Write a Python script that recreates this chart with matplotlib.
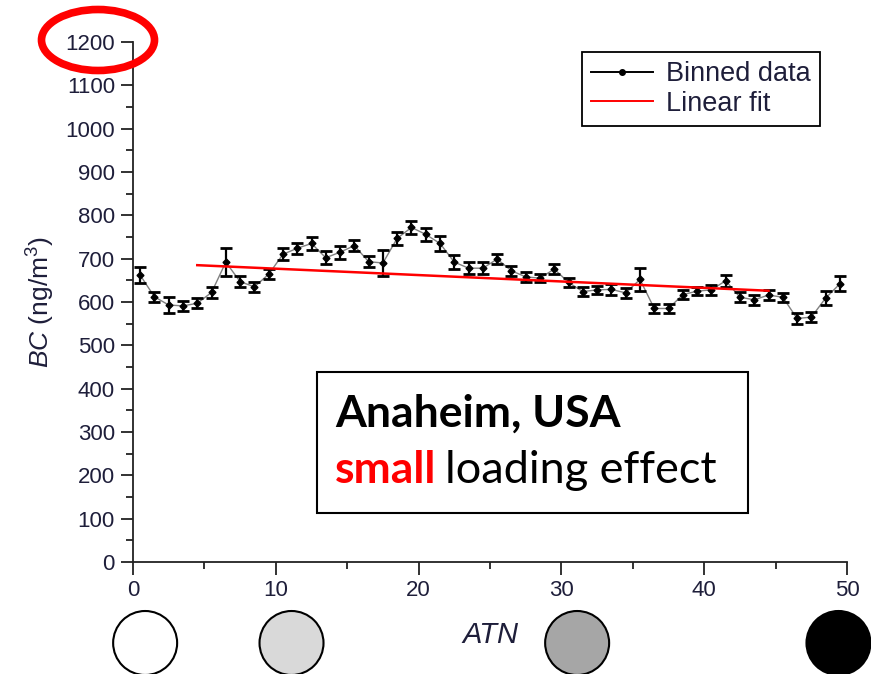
import numpy as np
import matplotlib
matplotlib.use("Agg")
import matplotlib.pyplot as plt
from matplotlib.lines import Line2D
from matplotlib.patches import Ellipse, Rectangle

plt.rcParams['font.family'] = ['Liberation Sans', 'DejaVu Sans']
plt.rcParams['mathtext.fontset'] = 'custom'
plt.rcParams['mathtext.rm'] = 'Liberation Sans'
plt.rcParams['mathtext.it'] = 'Liberation Sans:italic'

# binned BC vs ATN
atn = np.arange(0.5, 50, 1.0)
bc = [662, 612, 593, 591, 597, 622, 692, 647, 635, 664,
      710, 724, 735, 702, 715, 730, 693, 690, 747, 772,
      756, 735, 692, 678, 678, 699, 672, 658, 655, 676,
      645, 624, 628, 629, 621, 652, 585, 585, 617, 625,
      628, 649, 611, 605, 616, 611, 562, 565, 609, 642]
bc_err = [18, 11, 18, 11, 12, 13, 32, 12, 12, 12,
          14, 13, 15, 15, 15, 12, 12, 30, 15, 15,
          15, 18, 16, 14, 14, 12, 12, 12, 10, 12,
          10, 10, 10, 12, 12, 27, 11, 11, 10, 10,
          12, 14, 12, 12, 12, 10, 12, 11, 17, 17]

# linear fit over the middle range
fit_range = [4.5, 44.5]
fit_intercept = 691.6
fit_slope = -1.475

# filter spot shades at increasing attenuation
spot_colors = ['white', '#d9d9d9', '#a6a6a6', 'black']
spot_atn = [0.85, 11.1, 31.1, 49.4]

txt_col = '#1e1e3a'

fig = plt.figure(figsize=(8.71, 6.74), dpi=100)
ax = fig.add_axes([0.1527, 0.1662, 0.8198, 0.7715])

ax.plot(atn, bc, color='0.5', lw=1.0, zorder=2)
ax.errorbar(atn, bc, yerr=bc_err, fmt='D', color='black', ms=3.5,
            elinewidth=1.6, capsize=4.5, capthick=2.0, zorder=3)

fx = np.array(fit_range)
ax.plot(fx, fit_intercept + fit_slope * fx, color='red', lw=1.8, zorder=4)

ax.set_xlim(0, 50)
ax.set_ylim(0, 1200)
ax.set_xticks(np.arange(0, 51, 10))
ax.set_xticks(np.arange(5, 50, 10), minor=True)
ax.set_yticks(np.arange(0, 1201, 100))
ax.set_yticks(np.arange(50, 1200, 100), minor=True)
for side in ['top', 'right']:
    ax.spines[side].set_visible(False)
for side in ['left', 'bottom']:
    ax.spines[side].set_linewidth(1.3)
    ax.spines[side].set_color('#222222')
ax.tick_params(which='major', direction='out', length=9, width=1.3,
               color='#222222', labelsize=16, labelcolor=txt_col, pad=4)
ax.tick_params(which='minor', direction='out', length=5, width=1.3,
               color='#222222')

ax.set_ylabel(r'$BC$ (ng/m$^{3}$)', fontsize=19, color=txt_col, labelpad=6)
fig.text(490 / 871, 1 - 635 / 674, 'ATN', style='italic', fontsize=21,
         color=txt_col, ha='center', va='center')

handles = [Line2D([], [], color='black', lw=1.4, marker='o', ms=4),
           Line2D([], [], color='red', lw=1.4)]
leg = ax.legend(handles, ['Binned data', 'Linear fit'], loc='upper right',
                bbox_to_anchor=(0.962, 0.981), borderaxespad=0,
                fancybox=False, edgecolor='black', fontsize=19.5,
                handlelength=2.3, handletextpad=0.45, borderpad=0.35,
                labelspacing=0.12, framealpha=1)
leg.get_frame().set_linewidth(1.3)
for t in leg.get_texts():
    t.set_color(txt_col)

# site annotation box
fig.add_artist(Rectangle((317 / 871, 1 - 513 / 674), 431 / 871, 141 / 674,
                         transform=fig.transFigure, fill=True, facecolor='white',
                         edgecolor='black', lw=1.5, zorder=5))
fig.text(335 / 871, 1 - 427 / 674, 'Anaheim, USA', family='Lato',
         weight='bold', fontsize=32, va='baseline', zorder=6)
t_small = fig.text(335 / 871, 1 - 483 / 674, 'small', family='Lato',
                   weight='bold', color='red', fontsize=32, va='baseline', zorder=6)
fig.canvas.draw()
bb = t_small.get_window_extent()
fig.text((bb.x1 + 9) / 871, 1 - 483 / 674, 'loading effect', family='Lato',
         fontsize=32.5, va='baseline', zorder=6)

# highlight around the top tick label
fig.add_artist(Ellipse((98 / 871, 1 - 40 / 674), 113 / 871, 61 / 674,
                       transform=fig.transFigure, fill=False,
                       edgecolor='red', lw=5.5))

# filter spots along the ATN axis
for a, c in zip(spot_atn, spot_colors):
    px = ax.transData.transform((a, 0))[0] / 871
    fig.add_artist(Ellipse((px, 1 - 643 / 674), 64 / 871, 64 / 674,
                           transform=fig.transFigure, facecolor=c,
                           edgecolor='black', lw=1.5))

fig.savefig('out.png', dpi=100)
